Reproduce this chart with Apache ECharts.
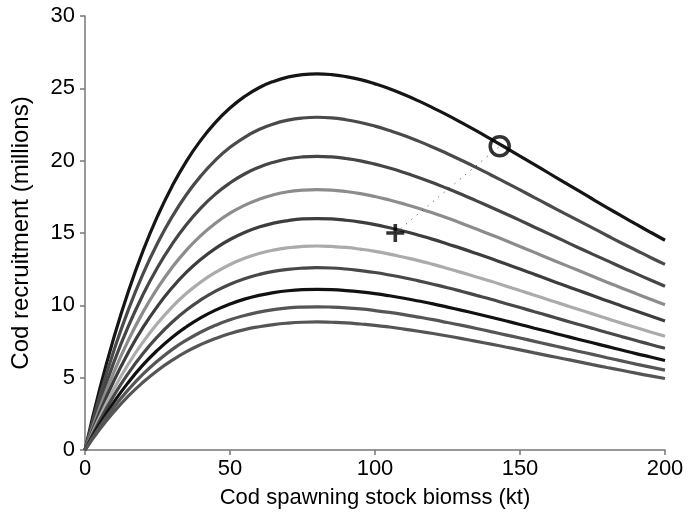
<!DOCTYPE html>
<html>
<head>
<meta charset="utf-8">
<script src="https://cdn.jsdelivr.net/npm/echarts@6/dist/echarts.min.js"></script>
<style>
  html, body { margin: 0; padding: 0; background: #fff; }
  #chart { width: 689px; height: 525px; }
</style>
</head>
<body>
<div id="chart"></div>
<script>
// spawning stock biomass (kt)
const biomass = [0, 5, 10, 15, 20, 25, 30, 35, 40, 45, 50, 55, 60, 65, 70, 75, 80, 85, 90, 95, 100,
  105, 110, 115, 120, 125, 130, 135, 140, 145, 150, 155, 160, 165, 170, 175, 180, 185, 190, 195, 200];

// recruitment curves (millions), top to bottom
const curve1 = [0, 4.15, 7.80, 10.99, 13.76, 16.16, 18.22, 19.97, 21.43, 22.65, 23.64, 24.43, 25.04, 25.48, 25.78, 25.95, 26.00, 25.95, 25.81, 25.60, 25.31,
  24.97, 24.57, 24.13, 23.65, 23.15, 22.61, 22.06, 21.49, 20.91, 20.32, 19.73, 19.13, 18.53, 17.94, 17.35, 16.76, 16.18, 15.61, 15.05, 14.50];
const curve2 = [0, 3.67, 6.90, 9.72, 12.17, 14.29, 16.11, 17.66, 18.96, 20.04, 20.92, 21.61, 22.15, 22.54, 22.80, 22.95, 23.00, 22.96, 22.83, 22.64, 22.39,
  22.08, 21.74, 21.35, 20.93, 20.48, 20.01, 19.52, 19.01, 18.50, 17.98, 17.45, 16.92, 16.39, 15.87, 15.35, 14.83, 14.31, 13.81, 13.31, 12.83];
const curve3 = [0, 3.24, 6.09, 8.58, 10.74, 12.62, 14.22, 15.59, 16.74, 17.69, 18.46, 19.08, 19.55, 19.89, 20.13, 20.26, 20.30, 20.26, 20.15, 19.99, 19.76,
  19.49, 19.18, 18.84, 18.47, 18.07, 17.66, 17.22, 16.78, 16.33, 15.87, 15.40, 14.94, 14.47, 14.00, 13.54, 13.09, 12.63, 12.19, 11.75, 11.32];
const curve4 = [0, 2.87, 5.40, 7.61, 9.53, 11.19, 12.61, 13.82, 14.84, 15.68, 16.37, 16.91, 17.33, 17.64, 17.85, 17.96, 18.00, 17.97, 17.87, 17.72, 17.52,
  17.28, 17.01, 16.71, 16.38, 16.03, 15.66, 15.27, 14.88, 14.48, 14.07, 13.66, 13.24, 12.83, 12.42, 12.01, 11.60, 11.20, 10.81, 10.42, 10.04];
const curve5 = [0, 2.55, 4.80, 6.76, 8.47, 9.94, 11.21, 12.29, 13.19, 13.94, 14.55, 15.04, 15.41, 15.68, 15.86, 15.97, 16.00, 15.97, 15.88, 15.75, 15.58,
  15.36, 15.12, 14.85, 14.56, 14.24, 13.92, 13.58, 13.23, 12.87, 12.51, 12.14, 11.77, 11.40, 11.04, 10.68, 10.31, 9.96, 9.61, 9.26, 8.92];
const curve6 = [0, 2.25, 4.23, 5.96, 7.46, 8.76, 9.88, 10.83, 11.62, 12.28, 12.82, 13.25, 13.58, 13.82, 13.98, 14.07, 14.10, 14.07, 14.00, 13.88, 13.73,
  13.54, 13.32, 13.09, 12.83, 12.55, 12.26, 11.96, 11.66, 11.34, 11.02, 10.70, 10.37, 10.05, 9.73, 9.41, 9.09, 8.77, 8.47, 8.16, 7.86];
const curve7 = [0, 2.01, 3.78, 5.32, 6.67, 7.83, 8.83, 9.68, 10.39, 10.98, 11.46, 11.84, 12.13, 12.35, 12.49, 12.57, 12.60, 12.58, 12.51, 12.40, 12.27,
  12.10, 11.91, 11.69, 11.46, 11.22, 10.96, 10.69, 10.42, 10.13, 9.85, 9.56, 9.27, 8.98, 8.69, 8.41, 8.12, 7.84, 7.57, 7.29, 7.03];
const curve8 = [0, 1.77, 3.33, 4.69, 5.88, 6.90, 7.78, 8.52, 9.15, 9.67, 10.09, 10.43, 10.69, 10.88, 11.01, 11.08, 11.10, 11.08, 11.02, 10.93, 10.81,
  10.66, 10.49, 10.30, 10.10, 9.88, 9.65, 9.42, 9.18, 8.93, 8.68, 8.42, 8.17, 7.91, 7.66, 7.41, 7.16, 6.91, 6.66, 6.43, 6.19];
const curve9 = [0, 1.58, 2.97, 4.18, 5.24, 6.15, 6.94, 7.60, 8.16, 8.62, 9.00, 9.30, 9.53, 9.70, 9.82, 9.88, 9.90, 9.88, 9.83, 9.75, 9.64,
  9.51, 9.36, 9.19, 9.01, 8.81, 8.61, 8.40, 8.18, 7.96, 7.74, 7.51, 7.28, 7.06, 6.83, 6.61, 6.38, 6.16, 5.94, 5.73, 5.52];
const curve10 = [0, 1.41, 2.65, 3.74, 4.68, 5.50, 6.20, 6.80, 7.30, 7.71, 8.05, 8.32, 8.52, 8.67, 8.77, 8.83, 8.85, 8.83, 8.79, 8.71, 8.62,
  8.50, 8.36, 8.21, 8.05, 7.88, 7.70, 7.51, 7.32, 7.12, 6.92, 6.71, 6.51, 6.31, 6.11, 5.90, 5.70, 5.51, 5.31, 5.12, 4.94];

const curves = [curve1, curve2, curve3, curve4, curve5, curve6, curve7, curve8, curve9, curve10];
const curveColors = ['#151515', '#4a4a4a', '#454545', '#8c8c8c', '#3d3d3d', '#ababab', '#484848', '#111111', '#555555', '#555555'];

// marked points
const crossPoint = [107, 15];
const circlePoint = [143, 21];

const font = 'Liberation Sans, Arial, Helvetica, sans-serif';

const chart = echarts.init(document.getElementById('chart'));

const series = curves.map((vals, i) => ({
  type: 'line',
  data: biomass.map((s, j) => [s, vals[j]]),
  smooth: true,
  showSymbol: false,
  lineStyle: { color: curveColors[i], width: 3.2 },
  silent: true,
  z: 2
}));

series.push({
  type: 'line',
  data: [crossPoint, circlePoint],
  showSymbol: false,
  lineStyle: { color: '#333', width: 1, type: [1, 6] },
  silent: true,
  z: 3
});
series.push({
  type: 'scatter',
  data: [crossPoint],
  symbol: 'path://M4,0H6V4H10V6H6V10H4V6H0V4H4Z',
  symbolSize: 18,
  itemStyle: { color: '#000' },
  z: 4
});
series.push({
  type: 'scatter',
  data: [circlePoint],
  symbol: 'circle',
  symbolSize: 19,
  itemStyle: { color: 'rgba(0,0,0,0)', borderColor: '#000', borderWidth: 3.5 },
  z: 4
});

chart.setOption({
  animation: false,
  backgroundColor: '#fff',
  grid: { left: 85, right: 24, top: 16, bottom: 75 },
  xAxis: {
    type: 'value',
    min: 0,
    max: 200,
    interval: 50,
    name: 'Cod spawning stock biomss (kt)',
    nameLocation: 'middle',
    nameGap: 37,
    nameTextStyle: { fontFamily: font, fontSize: 22, color: '#000' },
    axisLine: { lineStyle: { color: '#777', width: 1.5 } },
    axisTick: { length: 5, lineStyle: { color: '#777', width: 1.5 } },
    axisLabel: { fontFamily: font, fontSize: 22, color: '#000', margin: 8 },
    splitLine: { show: false }
  },
  yAxis: {
    type: 'value',
    min: 0,
    max: 30,
    interval: 5,
    name: 'Cod recruitment (millions)',
    nameLocation: 'middle',
    nameGap: 52,
    nameTextStyle: { fontFamily: font, fontSize: 24, color: '#000' },
    axisLine: { show: true, lineStyle: { color: '#777', width: 1.5 } },
    axisTick: { show: true, length: 5, lineStyle: { color: '#777', width: 1.5 } },
    axisLabel: { fontFamily: font, fontSize: 22, color: '#000', margin: 10 },
    splitLine: { show: false }
  },
  series: series
});
</script>
</body>
</html>
